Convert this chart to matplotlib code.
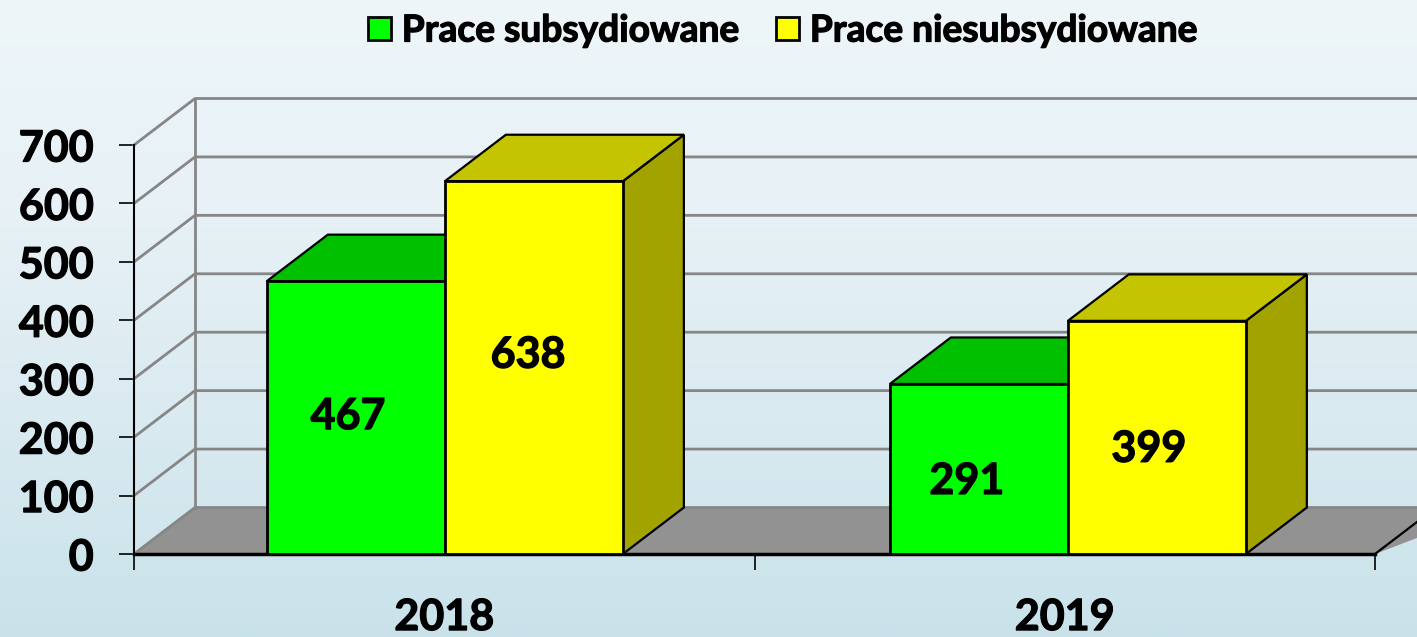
import numpy as np
import matplotlib
matplotlib.use('Agg')
import matplotlib.pyplot as plt
import matplotlib.patheffects as pe
from matplotlib.patches import Patch
from matplotlib.colors import LinearSegmentedColormap

years = ['2018', '2019']
subsydiowane = [467, 291]
niesubsydiowane = [638, 399]
series_names = ['Prace subsydiowane', 'Prace niesubsydiowane']
y_ticks = [0, 100, 200, 300, 400, 500, 600, 700]

W, H = 1417, 637
plt.rcParams['font.family'] = ['Lato', 'DejaVu Sans']
plt.rcParams['font.weight'] = 'bold'

# pixel box of the front plane
LEFT, RIGHT, TOP, BOTTOM = 134, 1375, 145, 554
PX_X = (RIGHT - LEFT) / 2.0
PX_Y = (BOTTOM - TOP) / 700.0
DX = 61 / PX_X
DY = 46.5 / PX_Y
BAR_W = 178 / PX_X
GROUP_CENTER = [0.501, 1.505]
LABEL_Y = [241, 346, 130, 185]
LABEL_SHIFT = [-8, -6, -12, -8]

GREEN = ('#00ff00', '#00c000', '#00a000')
YELLOW = ('#ffff00', '#c4c400', '#a3a300')

HEAVY = [pe.withStroke(linewidth=0.9, foreground='black')]


def drawBox(ax, x0, value, colors):
	x1 = x0 + BAR_W
	ax.fill([x1, x1 + DX, x1 + DX, x1], [0, DY, value + DY, value],
			facecolor=colors[2], edgecolor='black', lw=1.6, clip_on=False, zorder=4)
	ax.fill([x0, x0 + DX, x1 + DX, x1], [value, value + DY, value + DY, value],
			facecolor=colors[1], edgecolor='black', lw=1.6, clip_on=False, zorder=4)
	ax.fill([x0, x1, x1, x0], [0, 0, value, value],
			facecolor=colors[0], edgecolor='black', lw=2, clip_on=False, zorder=5)


fig = plt.figure(figsize=(W / 100, H / 100), dpi=100)

bg = fig.add_axes([0, 0, 1, 1], zorder=0)
cmap = LinearSegmentedColormap.from_list('bg', ['#eef6f9', '#e7f1f6', '#d9eaf0', '#c9e2ea'])
bg.imshow(np.linspace(0, 1, 256).reshape(-1, 1), aspect='auto', cmap=cmap)
bg.axis('off')

ax = fig.add_axes([LEFT / W, 1 - BOTTOM / H, (RIGHT - LEFT) / W, (BOTTOM - TOP) / H], zorder=1)
ax.patch.set_alpha(0)
ax.set_xlim(0, 2)
ax.set_ylim(0, 700)
far = 2 + DX * 2

# floor
ax.fill([0, DX, far, 2], [0, DY, DY, 0], facecolor='#929292', edgecolor='none', clip_on=False, zorder=1)
ax.plot([2, 2 + DX], [0, DY], color='black', lw=1.6, clip_on=False, zorder=2)

# walls and grid lines
for t in y_ticks:
	ax.plot([0, DX, far], [t, t + DY, t + DY], color='#868686', lw=2, clip_on=False, zorder=2)
ax.plot([DX, DX], [DY, 700 + DY], color='#868686', lw=2, clip_on=False, zorder=2)

label_values = []
for i, c in enumerate(GROUP_CENTER):
	drawBox(ax, c - BAR_W, subsydiowane[i], GREEN)
	drawBox(ax, c, niesubsydiowane[i], YELLOW)
	label_values += [(c - BAR_W / 2, subsydiowane[i]), (c + BAR_W / 2, niesubsydiowane[i])]

for (x, v), y, s in zip(label_values, LABEL_Y, LABEL_SHIFT):
	ax.annotate(str(v), (x, y - 5), xytext=(s * 0.72, 0), textcoords='offset points', ha='center', va='center',
				fontsize=31, fontweight='bold', color='black', zorder=6, path_effects=HEAVY)

for s in ['top', 'right']:
	ax.spines[s].set_visible(False)
ax.spines['left'].set_linewidth(1.5)
ax.spines['bottom'].set_linewidth(2.5)
ax.spines['bottom'].set_zorder(3)

ax.set_yticks(y_ticks)
ax.set_yticklabels([str(t) for t in y_ticks], fontsize=31, fontweight='bold', path_effects=HEAVY)
ax.tick_params(axis='y', length=11, width=1.2, pad=18)
ax.set_xticks([0, 1, 2])
ax.set_xticklabels([])
ax.tick_params(axis='x', length=11.5, width=1.2)
ax.set_xticks([0.5, 1.5], labels=years, minor=True, fontsize=31, fontweight='bold', path_effects=HEAVY)
ax.tick_params(axis='x', which='minor', length=0, pad=31)

handles = [Patch(facecolor=GREEN[0], edgecolor='black', lw=2),
		   Patch(facecolor=YELLOW[0], edgecolor='black', lw=2)]
leg = fig.legend(handles, series_names, ncol=2, loc='center', bbox_to_anchor=(783 / W, 1 - 31 / H),
		   frameon=False, fontsize=26.7, handlelength=0.6, handleheight=0.6,
		   handletextpad=0.3, columnspacing=1.0, borderpad=0, borderaxespad=0)
for txt in leg.get_texts():
	txt.set_path_effects(HEAVY)

plt.savefig('out.png', dpi=100)
